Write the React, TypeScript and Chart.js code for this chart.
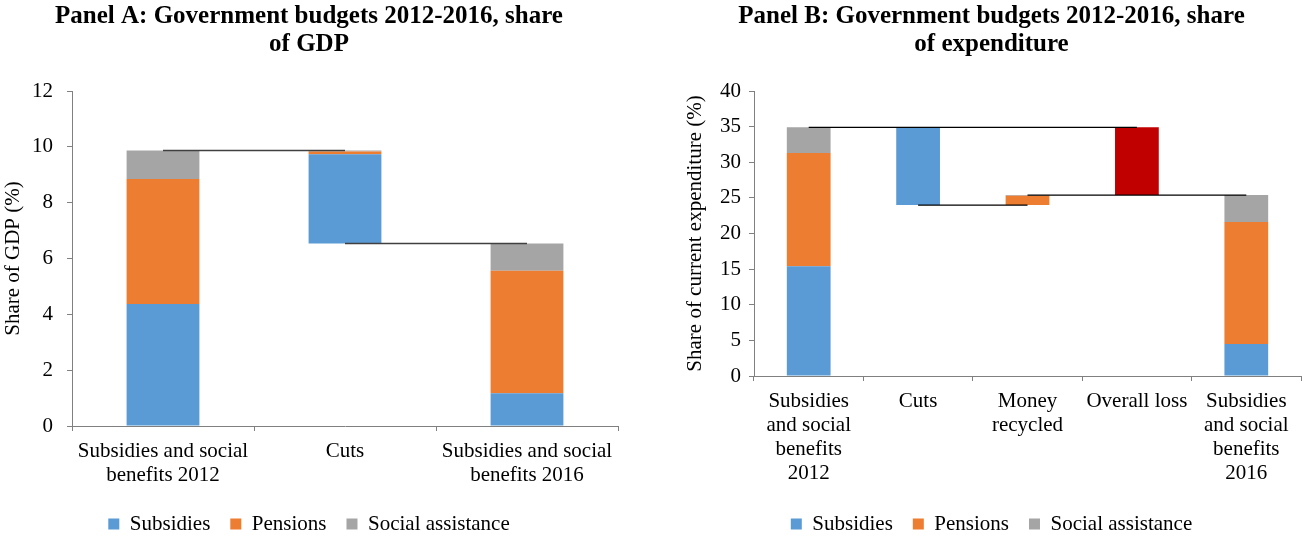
import React, { useEffect, useRef } from "react";
import { Chart, registerables } from "chart.js";

Chart.register(...registerables);

const FONT = "'Liberation Serif', 'Times New Roman', serif";
const AXIS = "#808080";

Chart.defaults.font.family = FONT;
Chart.defaults.color = "#000";

// ---------- Panel A data (share of GDP, %) ----------
const titleA = ["Panel A: Government budgets 2012-2016, share", "of GDP"];
const yTitleA = "Share of GDP (%)";
const categoriesA = [
  ["Subsidies and social", "benefits 2012"],
  "Cuts",
  ["Subsidies and social", "benefits 2016"],
];
const baseA = [0, 6.54, 0];
const subsidiesA = [4.37, 3.19, 1.17];
const pensionsA = [4.48, 0.1, 4.39];
const socialA = [1.02, 0.04, 0.98];
const lossA = [0, 0, 0];
const connectorA1 = [9.87, 9.87, null];
const connectorA2 = [null, 6.54, 6.54];
const yMinA = 0;
const yMaxA = 12;
const yStepA = 2;

// ---------- Panel B data (share of current expenditure, %) ----------
const titleB = ["Panel B: Government budgets 2012-2016, share", "of expenditure"];
const yTitleB = "Share of current expenditure (%)";
const categoriesB = [
  ["Subsidies", "and social", "benefits", "2012"],
  "Cuts",
  ["Money", "recycled"],
  "Overall loss",
  ["Subsidies", "and social", "benefits", "2016"],
];
const baseB = [0, 24.0, 24.0, 25.4, 0];
const subsidiesB = [15.4, 10.9, 0, 0, 4.5];
const pensionsB = [15.9, 0, 1.3, 0, 17.1];
const socialB = [3.6, 0, 0.1, 0, 3.8];
const lossB = [0, 0, 0, 9.5, 0];
const connectorB1 = [34.9, 34.9, 34.9, 34.9, null];
const connectorB2 = [null, 24.0, 24.0, null, null];
const connectorB3 = [null, null, 25.4, 25.4, 25.4];
const yMinB = 0;
const yMaxB = 40;
const yStepB = 5;

const legendNames = ["Subsidies", "Pensions", "Social assistance"];

const COLORS = {
  subsidies: "#5B9BD5",
  pensions: "#ED7D31",
  social: "#A5A5A5",
  loss: "#C00000",
};

type PanelSpec = {
  title: string[];
  yTitle: string;
  categories: any[];
  base: number[];
  subsidies: number[];
  pensions: number[];
  social: number[];
  loss: number[];
  connectors: (number | null)[][];
  connectorColor: string;
  connectorWidth: number;
  yMin: number;
  yMax: number;
  yStep: number;
  padLeft: number;
  padRight: number;
  yWidth: number;
  yTickPad: number;
  xHeight: number;
};

function buildConfig(p: PanelSpec): any {
  const bar = (label: string, data: number[], color: string) => ({
    type: "bar",
    label,
    data,
    backgroundColor: color,
    borderWidth: 0,
    barPercentage: 0.4,
    categoryPercentage: 1,
    stack: "bars",
    order: 2,
  });
  const datasets: any[] = [
    bar("base", p.base, "rgba(0,0,0,0)"),
    bar("Subsidies", p.subsidies, COLORS.subsidies),
    bar("Pensions", p.pensions, COLORS.pensions),
    bar("Social assistance", p.social, COLORS.social),
    bar("Overall loss", p.loss, COLORS.loss),
  ];
  p.connectors.forEach((c, i) => {
    datasets.push({
      type: "line",
      label: "connector" + i,
      data: c,
      borderColor: p.connectorColor,
      borderWidth: p.connectorWidth,
      pointRadius: 0,
      fill: false,
      spanGaps: false,
      stack: "c" + i,
      order: 0,
    });
  });

  return {
    type: "bar",
    data: { labels: p.categories, datasets },
    options: {
      responsive: false,
      animation: false,
      devicePixelRatio: 1,
      events: [],
      layout: {
        padding: { left: p.padLeft, right: p.padRight, top: 0, bottom: -8.5 },
      },
      plugins: {
        title: {
          display: true,
          text: p.title,
          color: "#000",
          font: { family: FONT, size: 25, weight: "bold", lineHeight: 1.1 },
          padding: { top: 3, bottom: 33 },
        },
        legend: {
          position: "bottom",
          labels: {
            filter: (item: any) => legendNames.includes(item.text),
            boxWidth: 11,
            boxHeight: 11,
            padding: 20,
            color: "#000",
            font: { family: FONT, size: 21, weight: "normal" },
          },
        },
        tooltip: { enabled: false },
      },
      scales: {
        x: {
          stacked: true,
          offset: true,
          grid: {
            display: true,
            offset: true,
            drawOnChartArea: false,
            drawTicks: true,
            tickLength: 5,
            color: AXIS,
          },
          border: { display: true, color: AXIS, width: 1 },
          ticks: {
            color: "#000",
            font: { family: FONT, size: 21, lineHeight: 1.15 },
            padding: 8,
            maxRotation: 0,
            minRotation: 0,
            autoSkip: false,
          },
          afterFit: (s: any) => {
            s.height = p.xHeight;
          },
        },
        y: {
          stacked: true,
          min: p.yMin,
          max: p.yMax,
          ticks: {
            stepSize: p.yStep,
            color: "#000",
            font: { family: FONT, size: 21 },
            padding: p.yTickPad,
          },
          grid: {
            display: true,
            drawOnChartArea: false,
            drawTicks: true,
            tickLength: 5,
            color: AXIS,
          },
          border: { display: true, color: AXIS, width: 1 },
          title: {
            display: true,
            text: p.yTitle,
            color: "#000",
            font: { family: FONT, size: 21 },
            padding: { top: 1, bottom: 0 },
          },
          afterFit: (s: any) => {
            s.width = p.yWidth;
          },
        },
      },
    },
  };
}

const panelA: PanelSpec = {
  title: titleA,
  yTitle: yTitleA,
  categories: categoriesA,
  base: baseA,
  subsidies: subsidiesA,
  pensions: pensionsA,
  social: socialA,
  loss: lossA,
  connectors: [connectorA1, connectorA2],
  connectorColor: "#404040",
  connectorWidth: 1.5,
  yMin: yMinA,
  yMax: yMaxA,
  yStep: yStepA,
  padLeft: 0,
  padRight: 32,
  yWidth: 72,
  yTickPad: 14,
  xHeight: 67.5,
};

const panelB: PanelSpec = {
  title: titleB,
  yTitle: yTitleB,
  categories: categoriesB,
  base: baseB,
  subsidies: subsidiesB,
  pensions: pensionsB,
  social: socialB,
  loss: lossB,
  connectors: [connectorB1, connectorB2, connectorB3],
  connectorColor: "#000000",
  connectorWidth: 1.25,
  yMin: yMinB,
  yMax: yMaxB,
  yStep: yStepB,
  padLeft: 32,
  padRight: 3,
  yWidth: 72,
  yTickPad: 8,
  xHeight: 117.5,
};

function ChartPanel({ spec, left, width }: { spec: PanelSpec; left: number; width: number }) {
  const ref = useRef<HTMLCanvasElement | null>(null);
  useEffect(() => {
    if (!ref.current) return;
    const chart = new Chart(ref.current, buildConfig(spec));
    return () => chart.destroy();
  }, [spec]);
  return (
    <canvas
      ref={ref}
      width={width}
      height={536}
      style={{ position: "absolute", left, top: 0, width, height: 536 }}
    />
  );
}

export default function App() {
  return (
    <div
      style={{
        position: "fixed",
        left: 0,
        top: 0,
        width: 1304,
        height: 536,
        overflow: "hidden",
        background: "#fff",
      }}
    >
      <ChartPanel spec={panelA} left={0} width={650} />
      <ChartPanel spec={panelB} left={650} width={654} />
    </div>
  );
}
